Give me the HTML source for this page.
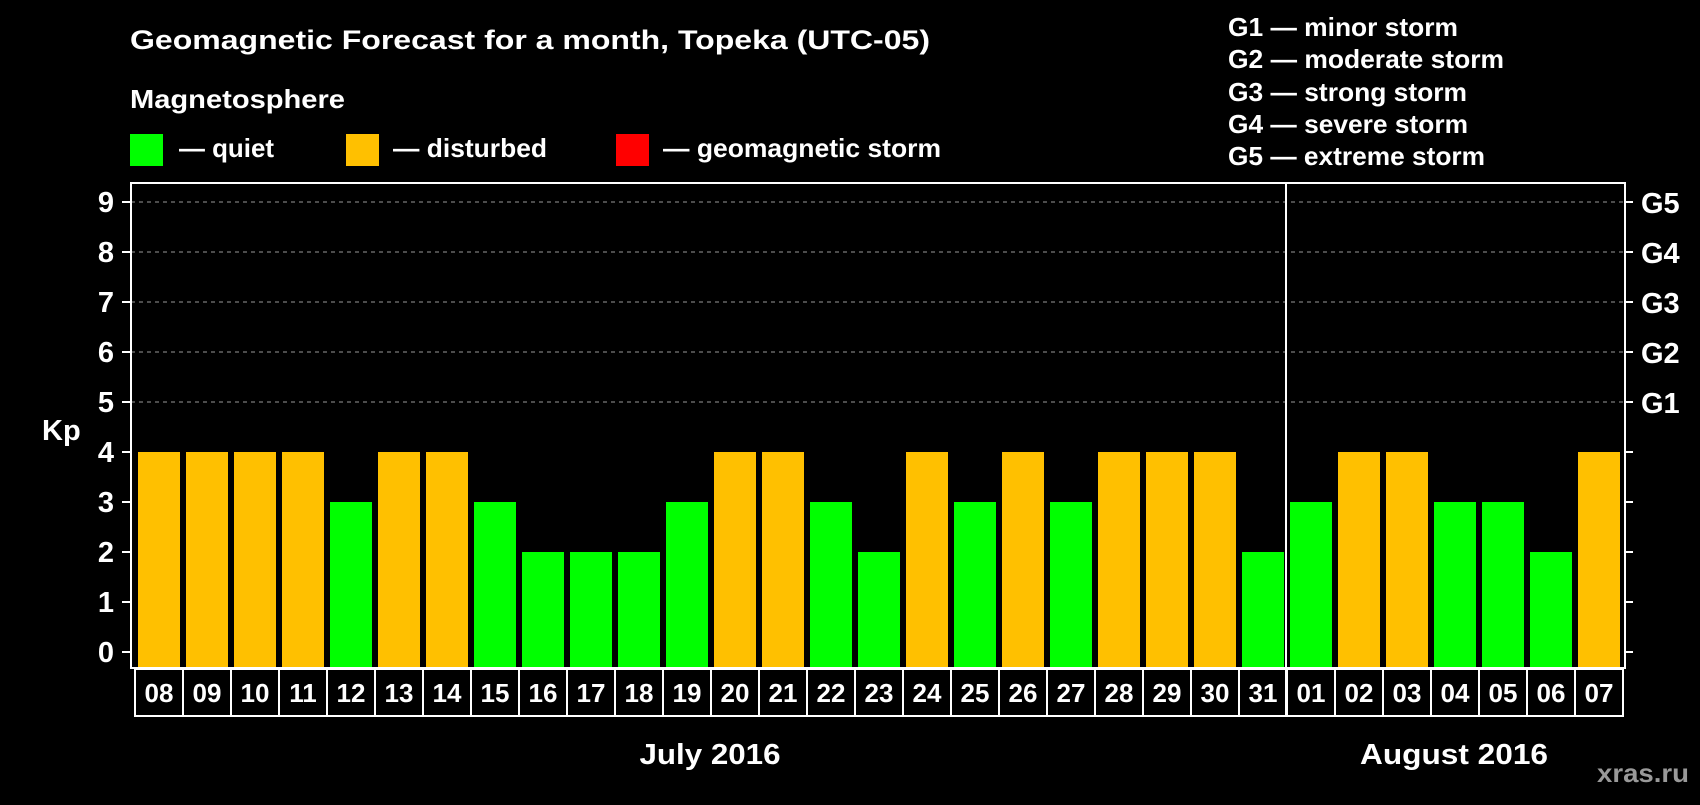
<!DOCTYPE html>
<html><head><meta charset="utf-8"><style>
body{margin:0;background:#000;width:1700px;height:800px;overflow:hidden}
svg text{font-family:"Liberation Sans",Arial,sans-serif;font-weight:bold;fill:#fff}
</style></head><body>
<svg id="c" width="1700" height="800" xmlns="http://www.w3.org/2000/svg">
<text x="130" y="49" font-size="27" textLength="800" lengthAdjust="spacingAndGlyphs">Geomagnetic Forecast for a month, Topeka (UTC-05)</text>
<text x="130" y="108" font-size="26" textLength="215" lengthAdjust="spacingAndGlyphs">Magnetosphere</text>
<rect x="130" y="134" width="33" height="32" fill="#00ff00"/>
<text x="179" y="157" font-size="26" textLength="95" lengthAdjust="spacingAndGlyphs">— quiet</text>
<rect x="346" y="134" width="33" height="32" fill="#ffc000"/>
<text x="393" y="157" font-size="26" textLength="154" lengthAdjust="spacingAndGlyphs">— disturbed</text>
<rect x="616" y="134" width="33" height="32" fill="#ff0000"/>
<text x="663" y="157" font-size="26" textLength="278" lengthAdjust="spacingAndGlyphs">— geomagnetic storm</text>
<g font-size="26">
<text x="1228" y="36" textLength="230" lengthAdjust="spacingAndGlyphs">G1 — minor storm</text>
<text x="1228" y="68" textLength="276" lengthAdjust="spacingAndGlyphs">G2 — moderate storm</text>
<text x="1228" y="101" textLength="239" lengthAdjust="spacingAndGlyphs">G3 — strong storm</text>
<text x="1228" y="133" textLength="240" lengthAdjust="spacingAndGlyphs">G4 — severe storm</text>
<text x="1228" y="165" textLength="257" lengthAdjust="spacingAndGlyphs">G5 — extreme storm</text>
</g>
<text x="42" y="440" font-size="29">Kp</text>
<g id="grid"></g><g id="bars"></g><g id="axes"></g>
<text x="710" y="764" font-size="29" text-anchor="middle" textLength="141" lengthAdjust="spacingAndGlyphs">July 2016</text>
<text x="1454" y="764" font-size="29" text-anchor="middle" textLength="188" lengthAdjust="spacingAndGlyphs">August 2016</text>
<text x="1597" y="782" font-size="26" textLength="92" lengthAdjust="spacingAndGlyphs" style="fill:#999">xras.ru</text>
</svg>
<script>
const days=["08","09","10","11","12","13","14","15","16","17","18","19","20","21","22","23","24","25","26","27","28","29","30","31","01","02","03","04","05","06","07"];
const kp=[4,4,4,4,3,4,4,3,2,2,2,3,4,4,3,2,4,3,4,3,4,4,4,2,3,4,4,3,3,2,4];
const yTicks=[0,1,2,3,4,5,6,7,8,9];
const gLabels=["G1","G2","G3","G4","G5"];
const NS="http://www.w3.org/2000/svg";
const L=131,R=1625,T=183,B=668,X0=135,PW=48,CT=669,CB=716;
const y=v=>652-v*50;
const x=i=>X0+i*PW;
function mk(t,a,p){const e=document.createElementNS(NS,t);for(const k in a)e.setAttribute(k,a[k]);p.appendChild(e);return e;}
const grid=document.getElementById('grid'),bars=document.getElementById('bars'),axes=document.getElementById('axes');
yTicks.forEach(v=>{
 if(v>=5){const g=mk('line',{x1:L,x2:R,y1:y(v),y2:y(v),stroke:'#999','stroke-dasharray':'4 4','stroke-width':1},grid);
 
 }
 const t=mk('line',{x1:L-9,x2:L,y1:y(v),y2:y(v),stroke:'#fff','stroke-width':2},axes);
 
 
 const t2=mk('line',{x1:R,x2:R+8,y1:y(v),y2:y(v),stroke:'#fff','stroke-width':2},axes);
 
 
 const l=mk('text',{x:114,y:y(v)+10,'font-size':29,'text-anchor':'end'},axes);l.textContent=v;
 
 
});
gLabels.forEach((g,i)=>{const l=mk('text',{x:1641,y:y(5+i)+11,'font-size':29},axes);l.textContent=g;
 
 });
kp.forEach((v,i)=>{
 const c=v>=5?'#ff0000':v>=4?'#ffc000':'#00ff00';
 const r=mk('rect',{x:x(i)+3,y:y(v),width:42,height:B-y(v),fill:c},bars);
 
 
 const cell=mk('rect',{x:x(i),y:CT,width:PW,height:CB-CT,fill:'none',stroke:'#fff','stroke-width':2},axes);
 
 
 const t=mk('text',{x:x(i)+PW/2,y:702,'font-size':26,'text-anchor':'middle'},axes);t.textContent=days[i];
 
 
});
const box=mk('rect',{x:L,y:T,width:R-L,height:B-T,fill:'none',stroke:'#fff','stroke-width':2},axes);


const sepI=days.indexOf("01");
const sep=mk('line',{x1:x(sepI)-1,x2:x(sepI)-1,y1:T,y2:CB,stroke:'#fff','stroke-width':2},axes);


</script>
</body></html>
